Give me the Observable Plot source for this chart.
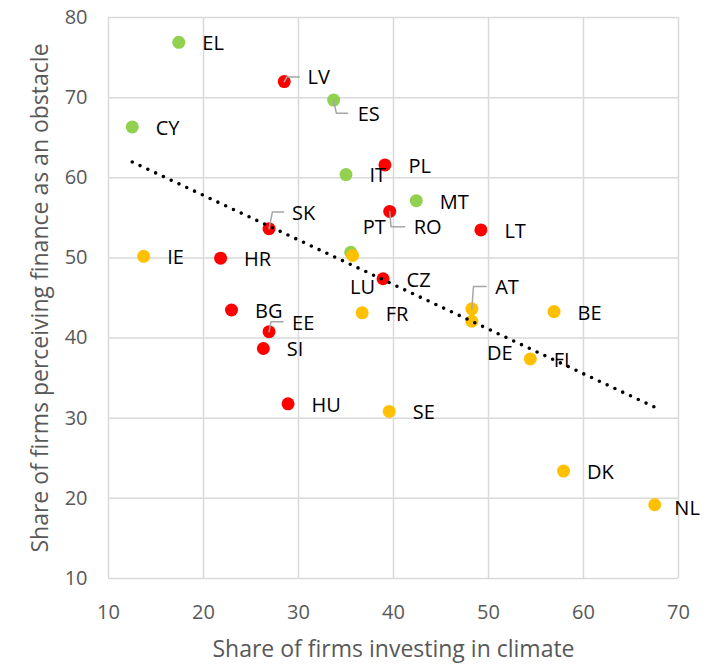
<!DOCTYPE html>
<html>
<head>
<meta charset="utf-8">
<script src="https://cdn.jsdelivr.net/npm/d3@7"></script>
<script src="https://cdn.jsdelivr.net/npm/@observablehq/plot@0.6"></script>
<style>
  body { margin: 0; background: #fff; }
  #chart svg { display: block; }
</style>
</head>
<body>
<div id="chart"></div>
<script>
// ---- Data ----
const countries = ["EL","CY","ES","IT","MT","PT",
                   "LV","PL","RO","LT","CZ","SK","HR","BG","EE","SI","HU",
                   "IE","LU","FR","AT","DE","BE","FI","SE","DK","NL"];
const climateShare = [17.4,12.5,33.7,35.0,42.4,35.5,
                      28.5,39.1,39.6,49.2,38.9,26.9,21.8,22.95,26.9,26.3,28.9,
                      13.7,35.7,36.7,48.25,48.25,56.9,54.4,39.55,57.9,67.5];
const financeObstacle = [76.9,66.35,69.7,60.4,57.15,50.7,
                         72.0,61.6,55.8,53.5,47.4,53.65,49.97,43.5,40.8,38.7,31.8,
                         50.2,50.3,43.15,43.65,42.1,43.3,37.4,30.85,23.4,19.2];
const groups = ["South","South","South","South","South","South",
                "CEE","CEE","CEE","CEE","CEE","CEE","CEE","CEE","CEE","CEE","CEE",
                "NorthWest","NorthWest","NorthWest","NorthWest","NorthWest","NorthWest","NorthWest","NorthWest","NorthWest","NorthWest"];
const groupNames = ["South","CEE","NorthWest"];
const xTicks = [10,20,30,40,50,60,70];
const yTicks = [10,20,30,40,50,60,70,80];
const xTitle = "Share of firms investing in climate";
const yTitle = "Share of firms perceiving finance as an obstacle";

// ---- Layout / style ----
const W = 707, H = 668;
const mL = 108, mR = 29, mT = 17, mB = 90;
const groupColors = ["#92D050","#FF0000","#FFC000"];
const font = "'Open Sans', 'Noto Sans', sans-serif";
const kx = (70 - 10) / (W - mL - mR);   // data units per pixel
const ky = (80 - 10) / (H - mT - mB);

// label offsets in pixels from the point (default to the right)
const defaultLabelOffset = [23.5, 1.5];
const labelOffsetPx = {
  LV: [23.3, -3.6], ES: [24, 15], RO: [24, 16], PT: [12, -24.7],
  LU: [-2.7, 31.7], DE: [15, 32.6], AT: [23.3, -21.6], SK: [23, -15],
  EE: [23, -7.7], NL: [19.6, 4]
};
// leader line paths in pixel offsets from the point
const leaderPx = {
  LV: [[0,0],[2.7,-4.6],[15,-4.6]],
  ES: [[0,0],[2.7,13.3],[14,13.3]],
  SK: [[0,0],[3.3,-16.6],[14.6,-16.6]],
  RO: [[0,0],[1.4,15.4],[15,15.4]],
  EE: [[0,0],[2,-10],[14,-10]],
  AT: [[0,0],[1.6,-22.3],[14.3,-22.3]]
};

const points = countries.map((c, i) => ({
  country: c, x: climateShare[i], y: financeObstacle[i], group: groups[i]
}));
const drawOrder = points.slice().sort((a, b) => groupNames.indexOf(a.group) - groupNames.indexOf(b.group));

const labels = points.map(p => {
  const [dx, dy] = labelOffsetPx[p.country] || defaultLabelOffset;
  return {text: p.country, x: p.x + dx * kx, y: p.y - dy * ky};
});

const leaders = [];
for (const p of points) {
  const path = leaderPx[p.country];
  if (!path) continue;
  for (const [dx, dy] of path) leaders.push({country: p.country, x: p.x + dx * kx, y: p.y - dy * ky});
}

const chart = Plot.plot({
  width: W, height: H,
  marginLeft: mL, marginRight: mR, marginTop: mT, marginBottom: mB,
  style: {fontFamily: font, fontSize: "20px", color: "#595959", background: "#fff"},
  x: {domain: [10, 70], ticks: xTicks, tickSize: 0, tickPadding: 26, label: null},
  y: {domain: [10, 80], ticks: yTicks, tickSize: 0, tickPadding: 21, label: null},
  color: {domain: groupNames, range: groupColors},
  marks: [
    Plot.ruleX(xTicks, {x: d => d, stroke: "#d9d9d9", strokeWidth: 1.5}),
    Plot.ruleY(yTicks, {y: d => d, stroke: "#d9d9d9", strokeWidth: 1.5}),
    Plot.dot(drawOrder, {x: "x", y: "y", r: 6.5, fill: "group", stroke: "none"}),
    Plot.line(leaders, {x: "x", y: "y", z: "country", stroke: "#a6a6a6", strokeWidth: 1.5}),
    Plot.linearRegressionY(points, {x: "x", y: "y", stroke: "#000", strokeWidth: 3.6,
      strokeDasharray: "0,8.6", strokeLinecap: "round", ci: 0}),
    Plot.text(labels, {x: "x", y: "y", text: "text", textAnchor: "start",
      fill: "#000", fontSize: 20, fontFamily: font}),
    Plot.text([xTitle], {frameAnchor: "bottom", dy: 71, text: d => d,
      textAnchor: "middle", lineAnchor: "middle",
      fill: "#595959", fontSize: 23, fontFamily: font}),
    Plot.text([yTitle], {frameAnchor: "left", dx: -68, rotate: -90, text: d => d,
      textAnchor: "middle", lineAnchor: "middle",
      fill: "#595959", fontSize: 23, fontFamily: font})
  ]
});
document.getElementById("chart").appendChild(chart);
</script>
</body>
</html>
